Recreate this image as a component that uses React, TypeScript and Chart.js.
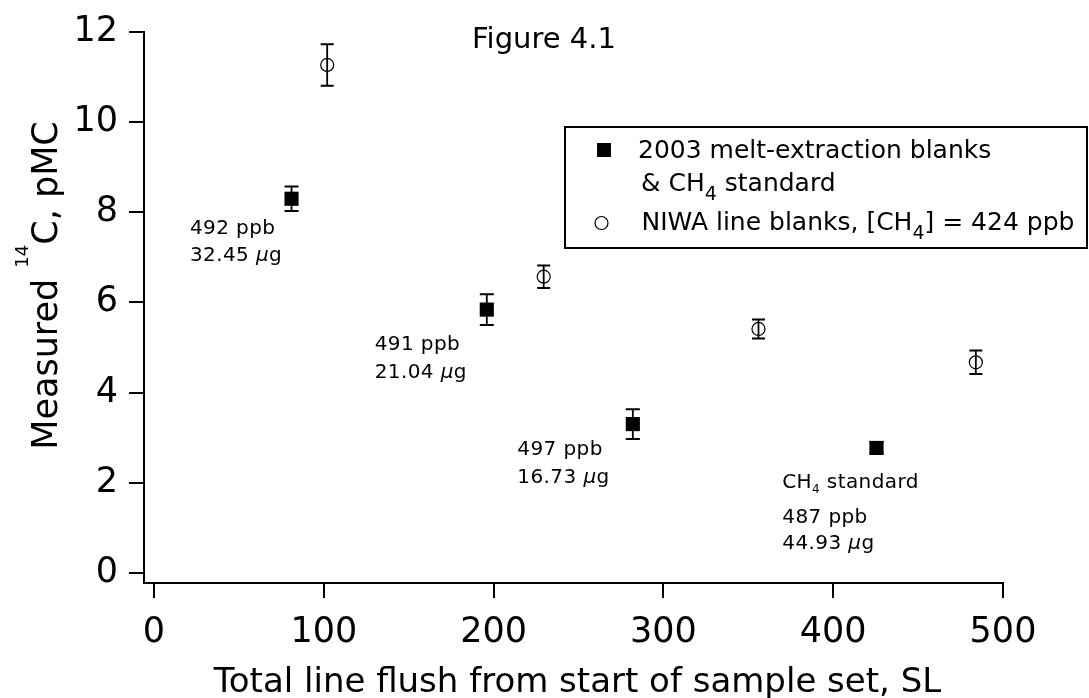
import React, { useEffect, useRef } from "react";
import { Chart, registerables } from "chart.js";

Chart.register(...registerables);

const FONT = '"DejaVu Sans", Verdana, sans-serif';

// ---- data ----
const xTicks = [0, 100, 200, 300, 400, 500];
const yTicks = [0, 2, 4, 6, 8, 10, 12];

const meltX = [81, 196, 282, 425.5];
const meltY = [8.3, 5.84, 3.3, 2.77];
const meltErr = [0.27, 0.34, 0.33, 0.12];

const niwaX = [102, 229.5, 356, 484];
const niwaY = [11.27, 6.57, 5.41, 4.67];
const niwaErr = [0.46, 0.25, 0.21, 0.26];

const meltName = "2003 melt-extraction blanks & CH4 standard";
const niwaName = "NIWA line blanks, [CH4] = 424 ppb";

// annotation anchors in data units (left edge, first baseline)
const annX = [21.2, 130, 214, 370];
const annY = [7.52, 4.94, 2.61, 1.88];

type Seg = { t: string; it?: boolean; dy?: number; size?: number };

const annLines: Seg[][][] = [
  [[{ t: "492 ppb" }], [{ t: "32.45 " }, { t: "µ", it: true }, { t: "g" }]],
  [[{ t: "491 ppb" }], [{ t: "21.04 " }, { t: "µ", it: true }, { t: "g" }]],
  [[{ t: "497 ppb" }], [{ t: "16.73 " }, { t: "µ", it: true }, { t: "g" }]],
  [
    [{ t: "CH" }, { t: "4", size: 12, dy: 4.5 }, { t: " standard" }],
    [{ t: "487 ppb" }],
    [{ t: "44.93 " }, { t: "µ", it: true }, { t: "g" }],
  ],
];
const annGaps = [[27], [28], [27.5], [34.5, 26.5]];

function drawRich(
  ctx: CanvasRenderingContext2D,
  segs: Seg[],
  x: number,
  y: number,
  size: number,
  spacing = 0,
  measureOnly = false
) {
  let cx = x;
  for (const s of segs) {
    const sz = s.size ?? size;
    ctx.font = `${s.it ? "italic " : ""}${sz}px ${FONT}`;
    (ctx as any).letterSpacing = spacing + "px";
    if (!measureOnly) ctx.fillText(s.t, cx, y + (s.dy ?? 0));
    cx += ctx.measureText(s.t).width;
  }
  (ctx as any).letterSpacing = "0px";
  return cx - x;
}

const customPlugin = {
  id: "customDraw",
  beforeDatasetsDraw(chart: any) {
    const ctx: CanvasRenderingContext2D = chart.ctx;
    const xs = chart.scales.x;
    const ys = chart.scales.y;
    const groups = [
      { X: meltX, Y: meltY, E: meltErr, cap: 7 },
      { X: niwaX, Y: niwaY, E: niwaErr, cap: 6.5 },
    ];
    ctx.save();
    ctx.strokeStyle = "#000";
    for (const g of groups) {
      g.X.forEach((xv, i) => {
        const px = xs.getPixelForValue(xv);
        const pt = ys.getPixelForValue(g.Y[i] + g.E[i]);
        const pb = ys.getPixelForValue(g.Y[i] - g.E[i]);
        ctx.lineWidth = 1.8;
        ctx.beginPath();
        ctx.moveTo(px, pt);
        ctx.lineTo(px, pb);
        ctx.stroke();
        ctx.lineWidth = 2;
        ctx.beginPath();
        ctx.moveTo(px - g.cap, pt);
        ctx.lineTo(px + g.cap, pt);
        ctx.moveTo(px - g.cap, pb);
        ctx.lineTo(px + g.cap, pb);
        ctx.stroke();
      });
    }
    ctx.restore();
  },
  afterDraw(chart: any) {
    const ctx: CanvasRenderingContext2D = chart.ctx;
    const xs = chart.scales.x;
    const ys = chart.scales.y;
    ctx.save();
    ctx.fillStyle = "#000";
    ctx.strokeStyle = "#000";
    ctx.textAlign = "left";
    ctx.textBaseline = "alphabetic";

    // title
    ctx.font = `29px ${FONT}`;
    ctx.fillText("Figure 4.1", 472, 48);

    // x axis title
    ctx.font = `34px ${FONT}`;
    ctx.textAlign = "center";
    ctx.fillText("Total line flush from start of sample set, SL", 577.5, 692);
    ctx.textAlign = "left";

    // y axis title (rotated) with superscript
    const ySegs: Seg[] = [
      { t: "Measured " },
      { t: "14", size: 18, dy: -29 },
      { t: "C, pMC" },
    ];
    ctx.save();
    ctx.translate(57, 285.5);
    ctx.rotate(-Math.PI / 2);
    const w = drawRich(ctx, ySegs, 0, 0, 35, 0, true);
    drawRich(ctx, ySegs, -w / 2, 0, 35);
    ctx.restore();

    // annotations
    annLines.forEach((lines, k) => {
      const x0 = xs.getPixelForValue(annX[k]);
      let y0 = ys.getPixelForValue(annY[k]);
      lines.forEach((segs, j) => {
        drawRich(ctx, segs, x0, y0, 20, 0.4);
        if (j < lines.length - 1) y0 += annGaps[k][j];
      });
    });

    // legend
    ctx.lineWidth = 2;
    ctx.strokeRect(565, 127, 522, 121);
    ctx.fillRect(604 - 7, 150 - 7, 14, 14);
    ctx.lineWidth = 1.2;
    ctx.beginPath();
    ctx.arc(601.5, 223, 6.5, 0, Math.PI * 2);
    ctx.stroke();
    const lf = 25;
    drawRich(ctx, [{ t: "2003 melt-extraction blanks" }], 638, 157.5, lf);
    drawRich(
      ctx,
      [{ t: "& CH" }, { t: "4", size: 19, dy: 9 }, { t: " standard" }],
      641,
      191,
      lf
    );
    drawRich(
      ctx,
      [
        { t: "NIWA line blanks, [CH" },
        { t: "4", size: 19, dy: 9 },
        { t: "] = 424 ppb" },
      ],
      641.5,
      230,
      lf
    );
    ctx.restore();
  },
};

export default function App() {
  const ref = useRef<HTMLCanvasElement | null>(null);
  useEffect(() => {
    if (!ref.current) return;
    const chart = new Chart(ref.current, {
      type: "scatter",
      data: {
        datasets: [
          {
            label: meltName,
            data: meltX.map((x, i) => ({ x, y: meltY[i] })),
            pointStyle: "rect",
            pointRadius: 10,
            pointHoverRadius: 10,
            backgroundColor: "#000",
            borderColor: "#000",
            borderWidth: 0,
          },
          {
            label: niwaName,
            data: niwaX.map((x, i) => ({ x, y: niwaY[i] })),
            pointStyle: "circle",
            pointRadius: 6.5,
            pointHoverRadius: 6.5,
            backgroundColor: "rgba(0,0,0,0)",
            borderColor: "#000",
            borderWidth: 1.2,
          },
        ],
      },
      options: {
        responsive: false,
        animation: false,
        events: [],
        layout: { padding: { top: 29, right: 86, left: 0, bottom: 0 } },
        plugins: {
          legend: { display: false },
          tooltip: { enabled: false },
          title: { display: false },
        },
        scales: {
          x: {
            type: "linear",
            min: -5.88,
            max: 500,
            afterBuildTicks: (s: any) => {
              s.ticks = xTicks.map((v) => ({ value: v }));
            },
            afterFit: (s: any) => {
              s.height = 115;
            },
            grid: {
              display: true,
              drawOnChartArea: false,
              drawTicks: true,
              tickLength: 15,
              color: "#000",
              lineWidth: 2,
            },
            border: { display: true, color: "#000", width: 2 },
            ticks: {
              autoSkip: false,
              maxRotation: 0,
              color: "#000",
              padding: 14,
              font: { family: FONT, size: 35 },
            },
          },
          y: {
            type: "linear",
            min: -0.227,
            max: 12,
            afterBuildTicks: (s: any) => {
              s.ticks = yTicks.map((v) => ({ value: v }));
            },
            afterFit: (s: any) => {
              s.width = 144;
            },
            grid: {
              display: true,
              drawOnChartArea: false,
              drawTicks: true,
              tickLength: 15,
              color: "#000",
              lineWidth: 2,
            },
            border: { display: true, color: "#000", width: 2 },
            ticks: {
              autoSkip: false,
              color: "#000",
              padding: 11,
              font: { family: FONT, size: 35 },
            },
          },
        },
      },
      plugins: [customPlugin],
    });
    return () => chart.destroy();
  }, []);
  return (
    <div
      style={{
        position: "fixed",
        left: 0,
        top: 0,
        width: 1089,
        height: 698,
        background: "#fff",
      }}
    >
      <canvas ref={ref} width={1089} height={698} style={{ display: "block" }} />
    </div>
  );
}
